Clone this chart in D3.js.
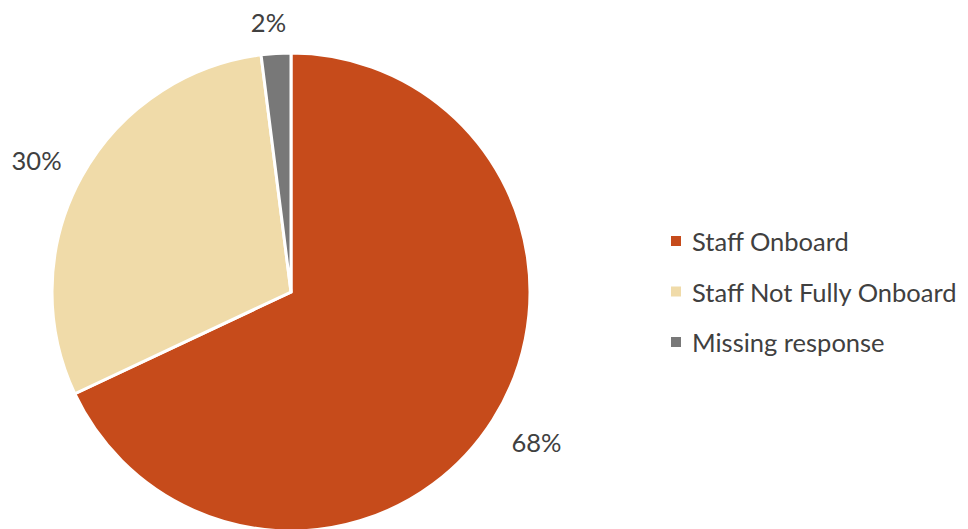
<!DOCTYPE html>
<html>
<head>
<meta charset="utf-8">
<script src="https://cdn.jsdelivr.net/npm/d3@7"></script>
<style>
  html, body { margin: 0; padding: 0; background: #fff; }
  svg { display: block; }
  text { font-family: Lato, "Open Sans", sans-serif; fill: #404040; }
</style>
</head>
<body>
<svg id="chart" width="968" height="529"></svg>
<script>
const categories = ["Staff Onboard", "Staff Not Fully Onboard", "Missing response"];
const values = [68, 30, 2];
const labels = ["68%", "30%", "2%"];
const colors = ["#C64B1B", "#F0DBA9", "#787878"];

const W = 968, H = 529;
const cx = 291, cy = 292, R = 239;
const fontSize = 25.5;

const svg = d3.select("#chart");
const g = svg.append("g").attr("transform", `translate(${cx},${cy})`);

const pie = d3.pie().sort(null).value(d => d)(values);
const arc = d3.arc().innerRadius(0).outerRadius(R);

g.selectAll("path.slice").data(pie).join("path")
  .attr("class", "slice")
  .attr("d", arc)
  .attr("fill", (d, i) => colors[i])
  .attr("stroke", "#fff")
  .attr("stroke-width", 3)
  .attr("stroke-linejoin", "miter");

// data labels outside, offset by bbox
const gap = 21;
const angOffset = -0.02;
g.selectAll("text.lbl").data(pie).join("text")
  .attr("class", "lbl")
  .attr("font-size", fontSize)
  .attr("text-anchor", "middle")
  .attr("dominant-baseline", "central")
  .text((d, i) => labels[i])
  .each(function(d) {
    const bb = this.getBBox();
    const a = (d.startAngle + d.endAngle) / 2 + angOffset;
    const sx = Math.sin(a), sy = -Math.cos(a);
    const r = R + gap + Math.abs(sx) * bb.width / 2 + Math.abs(sy) * 11;
    d3.select(this).attr("x", sx * r).attr("y", sy * r + 1);
  });

// legend
const legendX = 671, legendY0 = 241, legendStep = 50.5;
const leg = svg.append("g");
categories.forEach((c, i) => {
  const y = legendY0 + i * legendStep;
  leg.append("rect").attr("x", legendX).attr("y", y - 5).attr("width", 10).attr("height", 10).attr("fill", colors[i]);
  leg.append("text").attr("x", legendX + 21).attr("y", y).attr("dominant-baseline", "central")
    .attr("font-size", fontSize).text(c);
});
</script>
</body>
</html>
